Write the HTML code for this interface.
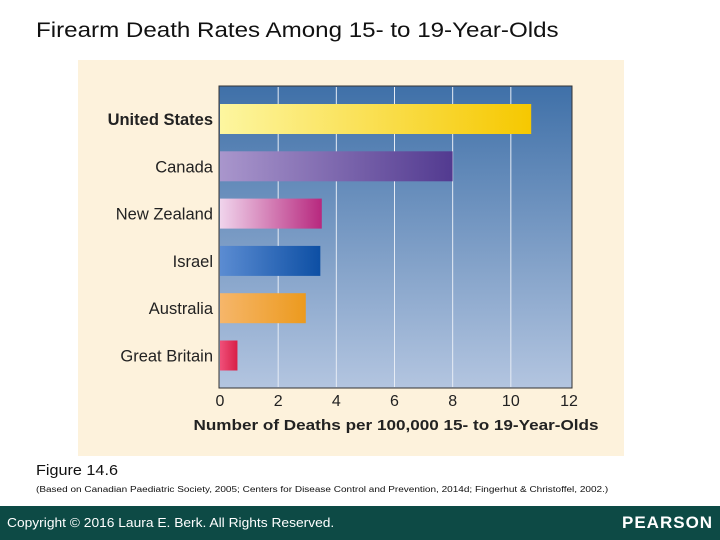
<!DOCTYPE html>
<html><head><meta charset="utf-8"><style>
body{margin:0;width:720px;height:540px;background:#fff;position:relative;overflow:hidden;font-family:"Liberation Sans",sans-serif}
.abs{position:absolute;white-space:nowrap}
</style></head><body>
<div class="abs" style="left:36px;top:19px;font-size:21px;color:#111;transform:scaleX(1.15);transform-origin:0 0">Firearm Death Rates Among 15- to 19-Year-Olds</div>
<svg class="abs" style="left:0;top:0" width="720" height="540">
<defs>
<linearGradient id="bg" x1="0" y1="0" x2="0" y2="1"><stop offset="0" stop-color="#3f70a8"/><stop offset="1" stop-color="#b3c5e0"/></linearGradient>
<linearGradient id="g0"><stop offset="0" stop-color="#fdf6a0"/><stop offset="1" stop-color="#f6c800"/></linearGradient>
<linearGradient id="g1"><stop offset="0" stop-color="#a996cc"/><stop offset="1" stop-color="#523a90"/></linearGradient>
<linearGradient id="g2"><stop offset="0" stop-color="#f0d4ec"/><stop offset="1" stop-color="#b7287e"/></linearGradient>
<linearGradient id="g3"><stop offset="0" stop-color="#5b8cd2"/><stop offset="1" stop-color="#0d4fa4"/></linearGradient>
<linearGradient id="g4"><stop offset="0" stop-color="#f6b66a"/><stop offset="1" stop-color="#ec9a1e"/></linearGradient>
<linearGradient id="g5"><stop offset="0" stop-color="#f0507a"/><stop offset="1" stop-color="#d81f46"/></linearGradient>
</defs>
<rect x="78" y="60" width="546" height="396" fill="#fdf2dc"/>
<rect x="219" y="86" width="353" height="302" fill="url(#bg)" stroke="#333" stroke-width="1"/>
<g id="grid"></g><g id="bars"></g><g id="labels"></g><g id="ticks"></g>
<text x="396" y="430" text-anchor="middle" font-size="15" font-weight="bold" fill="#222" textLength="405" lengthAdjust="spacingAndGlyphs">Number of Deaths per 100,000 15- to 19-Year-Olds</text>
</svg>
<div class="abs" style="left:36px;top:462px;font-size:15px;color:#111;transform:scaleX(1.08);transform-origin:0 0">Figure 14.6</div>
<div class="abs" style="left:36px;top:485px;font-size:8px;color:#111;transform:scaleX(1.25);transform-origin:0 0">(Based on Canadian Paediatric Society, 2005; Centers for Disease Control and Prevention, 2014d; Fingerhut &amp; Christoffel, 2002.)</div>
<div class="abs" style="left:0;top:506px;width:720px;height:34px;background:#0d4a45"></div>
<div class="abs" style="left:7px;top:515px;font-size:13px;color:#fff;transform:scaleX(1.06);transform-origin:0 0">Copyright © 2016 Laura E. Berk. All Rights Reserved.</div>
<div class="abs" style="left:622px;top:513px;font-size:17px;color:#fff;font-weight:bold;letter-spacing:1px">PEARSON</div>
<script>
const categories=["United States","Canada","New Zealand","Israel","Australia","Great Britain"];
const values=[10.7,8.0,3.5,3.45,2.95,0.6];
const ticks=[0,2,4,6,8,10,12];
const NS="http://www.w3.org/2000/svg";
const x=v=>220+v*(569-220)/12;
const yTop=i=>104+i*47.3;
function mk(t,a,p){const e=document.createElementNS(NS,t);for(const k in a)e.setAttribute(k,a[k]);document.getElementById(p).appendChild(e);return e;}
ticks.forEach((t,i)=>{
 if(t>0&&t<12){const l=mk('line',{x1:x(t),x2:x(t),y1:87,y2:387,stroke:'#e6ecf5','stroke-width':1},'grid');
 
 }
 const tx=mk('text',{x:x(t),y:406,'text-anchor':'middle','font-size':16,fill:'#222'},'ticks');tx.textContent=t;
 
 
});
categories.forEach((c,i)=>{
 const r=mk('rect',{x:x(0),y:yTop(i),width:x(values[i])-x(0),height:30,fill:'url(#g'+i+')'},'bars');
 
 
 const t=mk('text',{x:213,y:yTop(i)+21,'text-anchor':'end','font-size':16.5,fill:'#222','font-weight':i==0?'bold':'normal'},'labels');t.textContent=c;
 
 
});
</script>
</body></html>
